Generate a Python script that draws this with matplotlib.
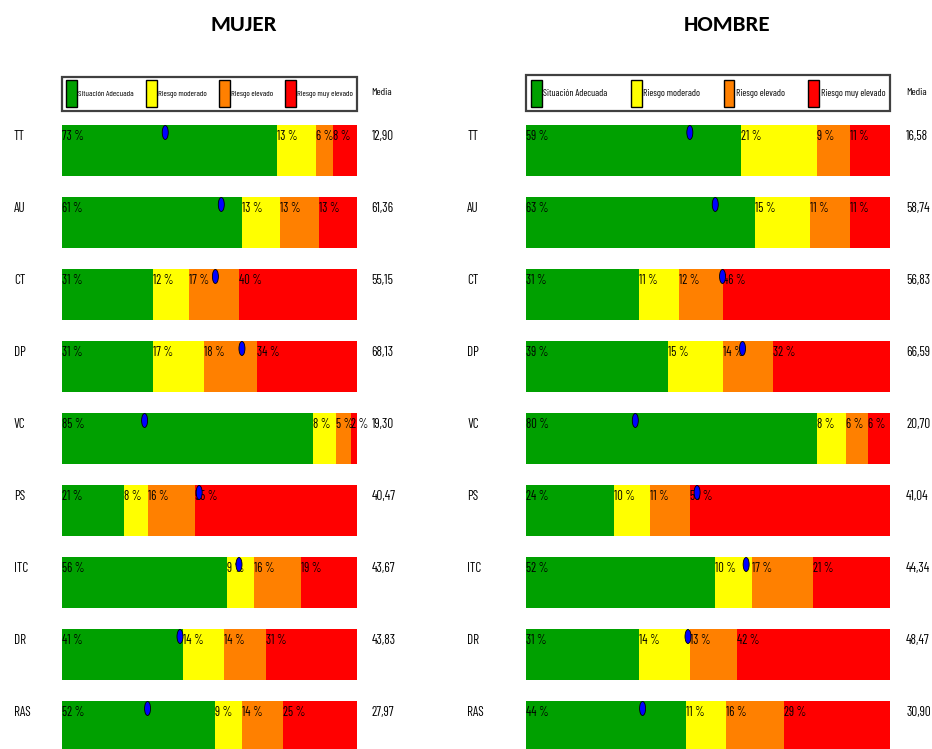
import matplotlib
matplotlib.use("Agg")
import matplotlib.pyplot as plt
import numpy as np
from matplotlib.patches import Patch, Ellipse

# datos
rows = ['TT', 'AU', 'CT', 'DP', 'VC', 'PS', 'ITC', 'DR', 'RAS']
categorias = ['Situación Adecuada', 'Riesgo moderado', 'Riesgo elevado', 'Riesgo muy elevado']
colores = ['#00A000', '#FFFF00', '#FF8000', '#FF0000']

mujer_adecuada = [73, 61, 31, 31, 85, 21, 56, 41, 52]
mujer_moderado = [13, 13, 12, 17, 8, 8, 9, 14, 9]
mujer_elevado = [6, 13, 17, 18, 5, 16, 16, 14, 14]
mujer_muy_elevado = [8, 13, 40, 34, 2, 55, 19, 31, 25]
mujer_media = [12.90, 61.36, 55.15, 68.13, 19.30, 40.47, 43.67, 43.83, 27.97]
mujer_punto = [35, 54, 52, 61, 28, 46.5, 60, 40, 29]

hombre_adecuada = [59, 63, 31, 39, 80, 24, 52, 31, 44]
hombre_moderado = [21, 15, 11, 15, 8, 10, 10, 14, 11]
hombre_elevado = [9, 11, 12, 14, 6, 11, 17, 13, 16]
hombre_muy_elevado = [11, 11, 46, 32, 6, 55, 21, 42, 29]
hombre_media = [16.58, 58.74, 56.83, 66.59, 20.70, 41.04, 44.34, 48.47, 30.90]
hombre_punto = [45, 52, 54, 59.5, 30, 47, 60.5, 44.5, 32]

W, H = 932, 749
narrow = ['Barlow Condensed', 'Liberation Sans Narrow', 'DejaVu Sans']
bold_title = ['Carlito', 'Open Sans', 'DejaVu Sans']

fig = plt.figure(figsize=(W / 100, H / 100), dpi=100)
fig.patch.set_facecolor('white')


def panel(left_px, width_px, title, title_x, series, media, punto, leg_fs, mx):
    ax = fig.add_axes([left_px / W, 0, width_px / W, 1])
    # one row = 72 px, first row centre at 150.5 px from the top
    ax.set_ylim((H - 150.5) / 72, -150.5 / 72)
    ax.set_xlim(0, 100)
    ax.axis('off')

    y = np.arange(len(rows))
    h = 51 / 72
    ty = y - 0.2
    left = np.zeros(len(rows))
    for vals, col in zip(series, colores):
        vals = np.array(vals)
        ax.barh(y, vals, left=left, height=h, color=col, edgecolor='none')
        for i in range(len(rows)):
            ax.text(left[i], ty[i], f'{vals[i]} %', family=narrow,
                    fontsize=9, ha='left', va='center', color='black')
        left = left + vals

    # punto azul
    ew = 6 / width_px * 100
    for i in range(len(rows)):
        e = Ellipse((punto[i], y[i] - 0.25), ew, 14 / 72, facecolor='#0000FF',
                    edgecolor='black', linewidth=0.6, zorder=5)
        ax.add_patch(e)

    for i, r in enumerate(rows):
        ax.text(-16.3, ty[i], r, family=narrow, fontsize=9.5,
                ha='left', va='center')
        ax.text(mx, ty[i], f'{media[i]:.2f}'.replace('.', ','),
                family=narrow, fontsize=9.5, ha='left', va='center')
    ax.text(mx, (92 - 150.5) / 72, 'Media', family=narrow, fontsize=7.5,
            ha='left', va='center')

    handles = [Patch(facecolor=c, edgecolor='black', label=l)
               for c, l in zip(colores, categorias)]
    hh = (19.4 / leg_fs - 0.245) / 0.65
    leg = ax.legend(handles=handles, loc='lower left',
                    bbox_to_anchor=(0, 1 - 111 / H, 1, 37 / H), mode='expand',
                    ncol=4, handlelength=7.9 / leg_fs, handleheight=hh,
                    handletextpad=0.15, borderaxespad=0, borderpad=0.45,
                    fancybox=False, framealpha=1,
                    prop={'family': narrow, 'size': leg_fs})
    leg.get_frame().set_edgecolor('#404040')
    leg.get_frame().set_linewidth(1.6)

    fig.text(title_x / W, 1 - 25 / H, title, fontsize=16.5, fontweight='bold',
             family=bold_title, ha='center', va='center')


panel(62, 295, 'MUJER', 244,
      [mujer_adecuada, mujer_moderado, mujer_elevado, mujer_muy_elevado],
      mujer_media, mujer_punto, 6.0, 105)
panel(526.3, 363.4, 'HOMBRE', 727.5,
      [hombre_adecuada, hombre_moderado, hombre_elevado, hombre_muy_elevado],
      hombre_media, hombre_punto, 6.9, 104.5)

fig.savefig('out.png', dpi=100)
